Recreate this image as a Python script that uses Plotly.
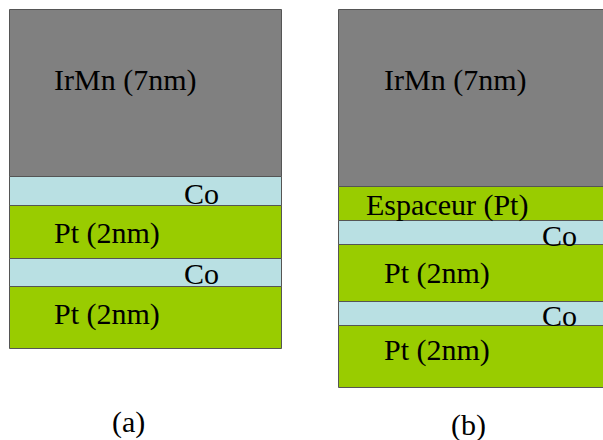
import plotly.graph_objects as go

# Layer stacks (top -> bottom); boundaries in pixel-like depth units
stack_a_labels = ["IrMn (7nm)", "Co", "Pt (2nm)", "Co", "Pt (2nm)"]
stack_a_materials = ["IrMn", "Co", "Pt", "Co", "Pt"]
stack_a_bounds = [10, 177, 206, 259, 287, 349]
stack_a_x = [10, 282]

stack_b_labels = ["IrMn (7nm)", "Espaceur (Pt)", "Co", "Pt (2nm)", "Co", "Pt (2nm)"]
stack_b_materials = ["IrMn", "Pt", "Co", "Pt", "Co", "Pt"]
stack_b_bounds = [10, 187, 221, 245, 302, 326, 388]
stack_b_x = [339, 605]

panel_labels = ["(a)", "(b)"]

# label placement (left x, centre y)
stack_a_label_x = [52, 182, 52, 182, 52]
stack_a_label_y = [80, 193.5, 233, 273, 314]
stack_b_label_x = [382, 364, 540, 382, 540, 382]
stack_b_label_y = [80, 205, 235.5, 273, 315.5, 350]

colors = {"IrMn": "#808080", "Co": "#b9e0e3", "Pt": "#99cc00"}
edge = "#555555"
font_family = "Liberation Serif"
fs = 30

fig = go.Figure()

def add_stack(labels, mats, bounds, xr, lx, ly):
    center = (xr[0] + xr[1]) / 2
    width = xr[1] - xr[0]
    for i, m in enumerate(mats):
        fig.add_trace(go.Bar(
            x=[center], y=[bounds[i + 1] - bounds[i]], base=[bounds[i]],
            width=[width], marker=dict(color=colors[m], line=dict(color=edge, width=1)),
            showlegend=False, hoverinfo="skip"))
    for lab, x, y in zip(labels, lx, ly):
        fig.add_annotation(x=x, y=y, text=lab, showarrow=False, xanchor="left",
                           yanchor="middle", font=dict(family=font_family, size=fs, color="black"))

add_stack(stack_a_labels, stack_a_materials, stack_a_bounds, stack_a_x, stack_a_label_x, stack_a_label_y)
add_stack(stack_b_labels, stack_b_materials, stack_b_bounds, stack_b_x, stack_b_label_x, stack_b_label_y)

fig.add_annotation(x=128, y=422, text=panel_labels[0], showarrow=False,
                   font=dict(family=font_family, size=fs, color="black"))
fig.add_annotation(x=468, y=425, text=panel_labels[1], showarrow=False,
                   font=dict(family=font_family, size=fs, color="black"))

fig.update_layout(
    width=603, height=440, margin=dict(l=0, r=0, t=0, b=0),
    paper_bgcolor="white", plot_bgcolor="white", barmode="overlay", bargap=0,
    xaxis=dict(range=[0, 603], visible=False, fixedrange=True),
    yaxis=dict(range=[440, 0], visible=False, fixedrange=True),
)
fig.write_html("out.html", config={"displayModeBar": False},
               post_script="document.body.style.margin='0';document.body.style.overflow='hidden';")
